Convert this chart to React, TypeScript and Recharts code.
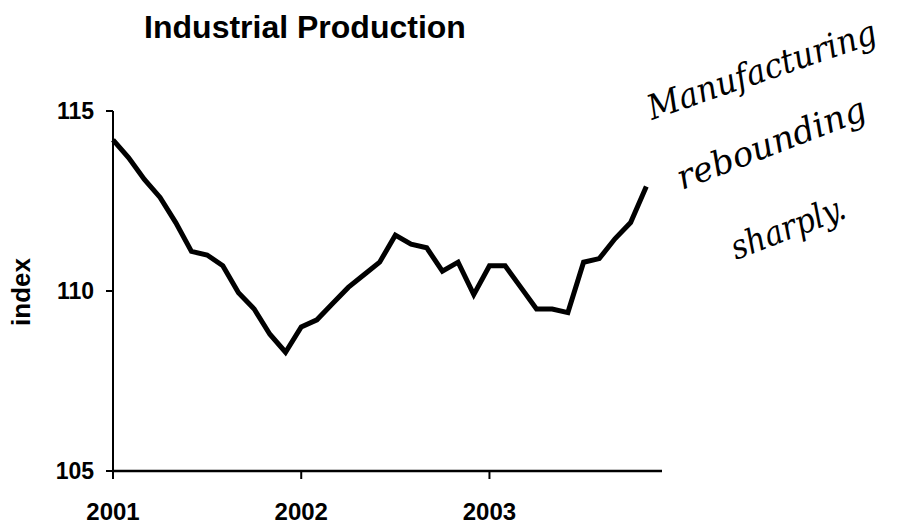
import { LineChart, Line, XAxis, YAxis } from 'recharts';

// monthly index, Jan 2001 .. Nov 2003
const production = [
  114.2, 113.7, 113.1, 112.6, 111.9, 111.1, 111.0, 110.7, 109.95, 109.5, 108.8, 108.3,
  109.0, 109.2, 109.65, 110.1, 110.45, 110.8, 111.55, 111.3, 111.2, 110.55, 110.8, 109.9,
  110.7, 110.7, 110.1, 109.5, 109.5, 109.4, 110.8, 110.9, 111.45, 111.9, 112.9,
];
const yearLabels = ['2001', '2002', '2003'];
const yearTicks = [0, 12, 24];
const yTicks = [105, 110, 115];
const noteLines = ['Manufacturing', 'rebounding', 'sharply.'];

const data = production.map((v, t) => ({ t, v }));

const axisFont = { fill: '#000', fontWeight: 700, fontFamily: '"Liberation Sans", Arial, sans-serif' };

const App = () => {
  return (
    <div style={{ position: 'absolute', left: 0, top: 0, width: 905, height: 525, background: '#fff' }}>
      <LineChart width={905} height={525} data={data} margin={{ top: 111, right: 243, bottom: 4, left: 0 }}>
        <XAxis
          type="number"
          dataKey="t"
          domain={[0, 35]}
          ticks={yearTicks}
          tickFormatter={(v: number) => yearLabels[v / 12]}
          height={50}
          axisLine={{ stroke: '#000', strokeWidth: 2.5 }}
          tickLine={{ stroke: '#000', strokeWidth: 2 }}
          tickSize={8}
          tickMargin={24}
          tick={{ ...axisFont, fontSize: 24 }}
        />
        <YAxis
          type="number"
          domain={[105, 115]}
          ticks={yTicks}
          width={113}
          axisLine={{ stroke: '#000', strokeWidth: 2 }}
          tickLine={{ stroke: '#000', strokeWidth: 2 }}
          tickSize={7}
          tickMargin={12}
          tick={{ ...axisFont, fontSize: 23 }}
        />
        <Line
          type="linear"
          dataKey="v"
          stroke="#000"
          strokeWidth={5}
          dot={false}
          activeDot={false}
          isAnimationActive={false}
        />
      </LineChart>
      <svg width={905} height={525} style={{ position: 'absolute', left: 0, top: 0, pointerEvents: 'none' }}>
        <text x={305} y={38} textAnchor="middle" fontSize={32} {...axisFont}>
          Industrial Production
        </text>
        <text
          x={0}
          y={0}
          transform="translate(30 292) rotate(-90)"
          textAnchor="middle"
          fontSize={26}
          {...axisFont}
        >
          index
        </text>
        <g fontFamily='"DejaVu Serif", serif' fontStyle="italic" fontSize={34} fill="#000">
          <text x={0} y={0} transform="translate(652 120) rotate(-19)" textLength={240} lengthAdjust="spacingAndGlyphs">
            {noteLines[0]}
          </text>
          <text x={0} y={0} transform="translate(682 190) rotate(-21)" textLength={200} lengthAdjust="spacingAndGlyphs">
            {noteLines[1]}
          </text>
          <text x={0} y={0} transform="translate(736 260) rotate(-21)" textLength={120} lengthAdjust="spacingAndGlyphs">
            {noteLines[2]}
          </text>
        </g>
      </svg>
    </div>
  );
};

export default App;
